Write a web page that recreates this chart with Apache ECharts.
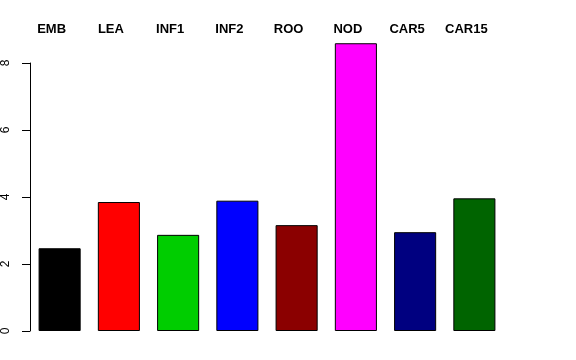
<!DOCTYPE html>
<html>
<head>
<meta charset="utf-8">
<script src="https://cdn.jsdelivr.net/npm/echarts@6/dist/echarts.min.js"></script>
<style>
html,body{margin:0;padding:0;background:#fff;}
#main{width:576px;height:360px;}
</style>
</head>
<body>
<div id="main"></div>
<script>
var categories = ['EMB','LEA','INF1','INF2','ROO','NOD','CAR5','CAR15'];
var values = [2.47, 3.85, 2.87, 3.89, 3.16, 8.59, 2.95, 3.96];
var colors = ['#000000','#FF0000','#00CD00','#0000FF','#8B0000','#FF00FF','#000080','#006400'];
var yTicks = [0, 2, 4, 6, 8];

var chart = echarts.init(document.getElementById('main'), null, {renderer:'canvas'});
chart.setOption({
  animation: false,
  backgroundColor: '#ffffff',
  grid: {left: 29.5, right: 72, top: 63, bottom: 29, containLabel: false},
  xAxis: {
    type: 'category',
    data: categories,
    position: 'top',
    axisLine: {show: false},
    axisTick: {show: false},
    axisLabel: {
      margin: 27,
      fontFamily: 'Liberation Sans, Arial, sans-serif',
      fontWeight: 'bold',
      fontSize: 13,
      color: '#000',
      padding: [0, 16, 0, 0]
    }
  },
  yAxis: {
    type: 'value',
    min: yTicks[0],
    max: yTicks[yTicks.length - 1],
    interval: 2,
    splitLine: {show: false},
    axisLine: {show: true, lineStyle: {color: '#000', width: 1}},
    axisTick: {show: true, length: 8, lineStyle: {color: '#000'}},
    axisLabel: {
      rotate: 90,
      margin: 18,
      fontFamily: 'Liberation Sans, Arial, sans-serif',
      fontSize: 12,
      color: '#000'
    }
  },
  series: [{
    type: 'bar',
    clip: false,
    barCategoryGap: '29%',
    data: values.map(function(v, i){
      return {value: v, itemStyle: {color: colors[i], borderColor: '#000', borderWidth: 1}};
    })
  }]
});
</script>
</body>
</html>
